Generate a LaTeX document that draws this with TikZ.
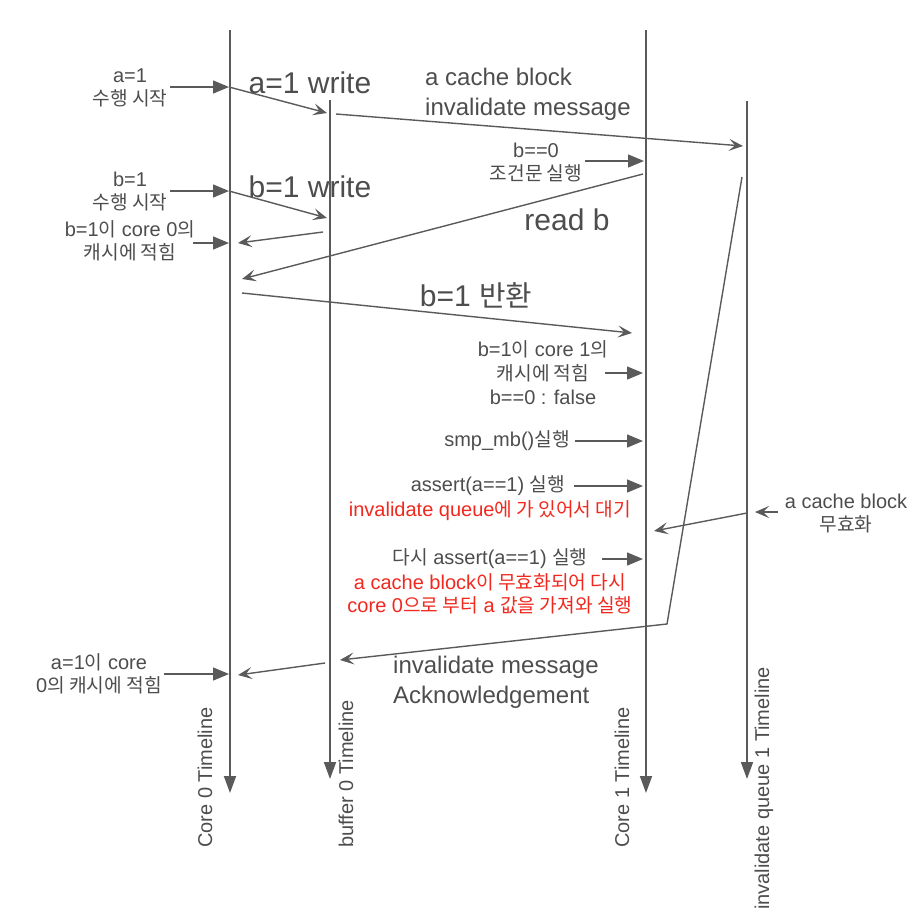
\documentclass[tikz,border=0pt]{standalone}
\usepackage{fontspec}
\setmainfont{Liberation Sans}
\newfontfamily\krfont[Scale=0.96]{Noto Sans CJK KR}
\newcommand{\kr}[1]{{\krfont #1}}
\usetikzlibrary{arrows.meta}

\definecolor{linegray}{RGB}{90,90,90}
\definecolor{textgray}{RGB}{77,77,77}
\definecolor{notered}{RGB}{240,40,30}

\tikzset{
  smalllabel/.style={font=\fontsize{20}{23}\selectfont, text=textgray, align=center, inner sep=0pt},
  redlabel/.style={smalllabel, text=notered},
  biglabel/.style={font=\fontsize{30}{36}\selectfont, text=textgray, inner sep=0pt},
  msglabel/.style={font=\fontsize{24}{30}\selectfont, text=textgray, align=left, inner sep=0pt},
  timeline/.style={draw=linegray, line width=1.8pt, -{Triangle[length=17pt,width=12pt]}},
  callarrow/.style={draw=linegray, line width=1.4pt, -{Triangle[length=16pt,width=13pt]}},
  msgarrow/.style={draw=linegray, line width=1.4pt, -{Stealth[length=14pt,width=12pt,inset=6pt]}}
}

\begin{document}
\begin{tikzpicture}[x=1pt,y=-1pt]
        \useasboundingbox (0,0) rectangle (924,922);

        \coordinate (c0top) at (230,30);   \coordinate (c0end) at (230,793);
        \coordinate (b0top) at (330,100);  \coordinate (b0end) at (330,779);
        \coordinate (c1top) at (646,30);   \coordinate (c1end) at (646,793);
        \coordinate (q1top) at (747,101);  \coordinate (q1end) at (747,779);
        \draw[timeline] (c0top) -- (c0end);
        \draw[timeline] (b0top) -- (b0end);
        \draw[timeline] (c1top) -- (c1end);
        \draw[timeline] (q1top) -- (q1end);
        \node[smalllabel, rotate=90, anchor=west] (c0name) at (205,848) {Core 0 Timeline};
        \node[smalllabel, rotate=90, anchor=west] (b0name) at (346,848) {buffer 0 Timeline};
        \node[smalllabel, rotate=90, anchor=west] (c1name) at (622,848) {Core 1 Timeline};
        \node[smalllabel, rotate=90, anchor=west] (q1name) at (764,910) {invalidate queue 1 Timeline};

        \node[smalllabel] (a1start) at (130,88) {a=1\\\kr{수행 시작}};
        \node[biglabel] (a1write) at (310,83) {a=1 write};
        \node[msglabel, anchor=west] (invmsg) at (425,94) {a cache block\\invalidate message};
        \node[smalllabel] (b0cond) at (536,162) {b==0\\\kr{조건문 실행}};
        \node[smalllabel] (b1start) at (130,192) {b=1\\\kr{수행 시작}};
        \node[biglabel] (b1write) at (310,187) {b=1 write};
        \node[smalllabel] (b1core0) at (130,241) {b=1\kr{이} core 0\kr{의}\\\kr{캐시에 적힘}};
        \node[biglabel] (readb) at (567,220) {read b};
        \node[biglabel] (b1ret) at (476,295) {b=1 \kr{반환}};
        \node[smalllabel, font=\fontsize{20}{24}\selectfont] (b1core1) at (543,373) {b=1\kr{이} core 1\kr{의}\\\kr{캐시에 적힘}\\b==0 : false};
        \node[smalllabel] (smpmb) at (507,441) {smp\_mb()\kr{실행}};
        \node[smalllabel] (assert1) at (488,486) {assert(a==1) \kr{실행}};
        \node[redlabel] (waitq) at (490,511) {invalidate queue\kr{에 가 있어서 대기}};
        \node[smalllabel] (invblock) at (846,513) {a cache block\\\kr{무효화}};
        \node[smalllabel] (assert2) at (490,559) {\kr{다시} assert(a==1) \kr{실행}};
        \node[redlabel] (refetch) at (490,594) {a cache block\kr{이 무효화되어 다시}\\core 0\kr{으로 부터} a \kr{값을 가져와 실행}};
        \node[msglabel, anchor=west] (ackmsg) at (393,682) {invalidate message\\Acknowledgement};
        \node[smalllabel] (a1core0) at (99,674) {a=1\kr{이} core\\0\kr{의 캐시에 적힘}};

        \coordinate (a1in) at (170,87);     \coordinate (a1c0) at (229,87);
        \coordinate (a1b0) at (327,113);    \coordinate (a1b0out) at (336,114);
        \coordinate (a1q1) at (743,146);
        \coordinate (condin) at (585,161);  \coordinate (condc1) at (644,161);
        \coordinate (b1in) at (170,191);    \coordinate (b1c0) at (229,191);
        \coordinate (b1b0) at (327,218);
        \coordinate (b1c0in) at (193,243);  \coordinate (b1c0hit) at (229,243);
        \coordinate (b1b0out) at (323,232); \coordinate (b1b0c0) at (238,243);
        \coordinate (readc1) at (643,174);  \coordinate (readc0) at (242,279);
        \coordinate (retc0) at (242,293);   \coordinate (retc1) at (632,333);
        \coordinate (b1c1in) at (605,373);  \coordinate (b1c1hit) at (643,373);
        \coordinate (smpin) at (575,441);   \coordinate (smpc1) at (643,441);
        \coordinate (as1in) at (574,486);   \coordinate (as1c1) at (643,486);
        \coordinate (invin) at (778,512);   \coordinate (invq1) at (755,512);
        \coordinate (invout) at (747,513);  \coordinate (invc1) at (654,531);
        \coordinate (as2in) at (602,559);   \coordinate (as2c1) at (643,559);
        \coordinate (ackq1) at (742,177);   \coordinate (ackbend) at (667,624);
        \coordinate (ackb0) at (340,660);
        \coordinate (ackb0out) at (325,663); \coordinate (ackc0) at (238,675);
        \coordinate (a1c0in) at (164,674);  \coordinate (a1c0hit) at (229,674);

        \draw[callarrow] (a1in) -- (a1c0);
        \draw[msgarrow] (a1c0) -- (a1b0);
        \draw[msgarrow] (a1b0out) -- (a1q1);
        \draw[callarrow] (condin) -- (condc1);
        \draw[callarrow] (b1in) -- (b1c0);
        \draw[msgarrow] (b1c0) -- (b1b0);
        \draw[callarrow] (b1c0in) -- (b1c0hit);
        \draw[msgarrow] (b1b0out) -- (b1b0c0);
        \draw[msgarrow] (readc1) -- (readc0);
        \draw[msgarrow] (retc0) -- (retc1);
        \draw[callarrow] (b1c1in) -- (b1c1hit);
        \draw[callarrow] (smpin) -- (smpc1);
        \draw[callarrow] (as1in) -- (as1c1);
        \draw[msgarrow] (invin) -- (invq1);
        \draw[msgarrow] (invout) -- (invc1);
        \draw[callarrow] (as2in) -- (as2c1);
        \draw[msgarrow] (ackq1) -- (ackbend) -- (ackb0);
        \draw[msgarrow] (ackb0out) -- (ackc0);
        \draw[callarrow] (a1c0in) -- (a1c0hit);
\end{tikzpicture}
\end{document}
